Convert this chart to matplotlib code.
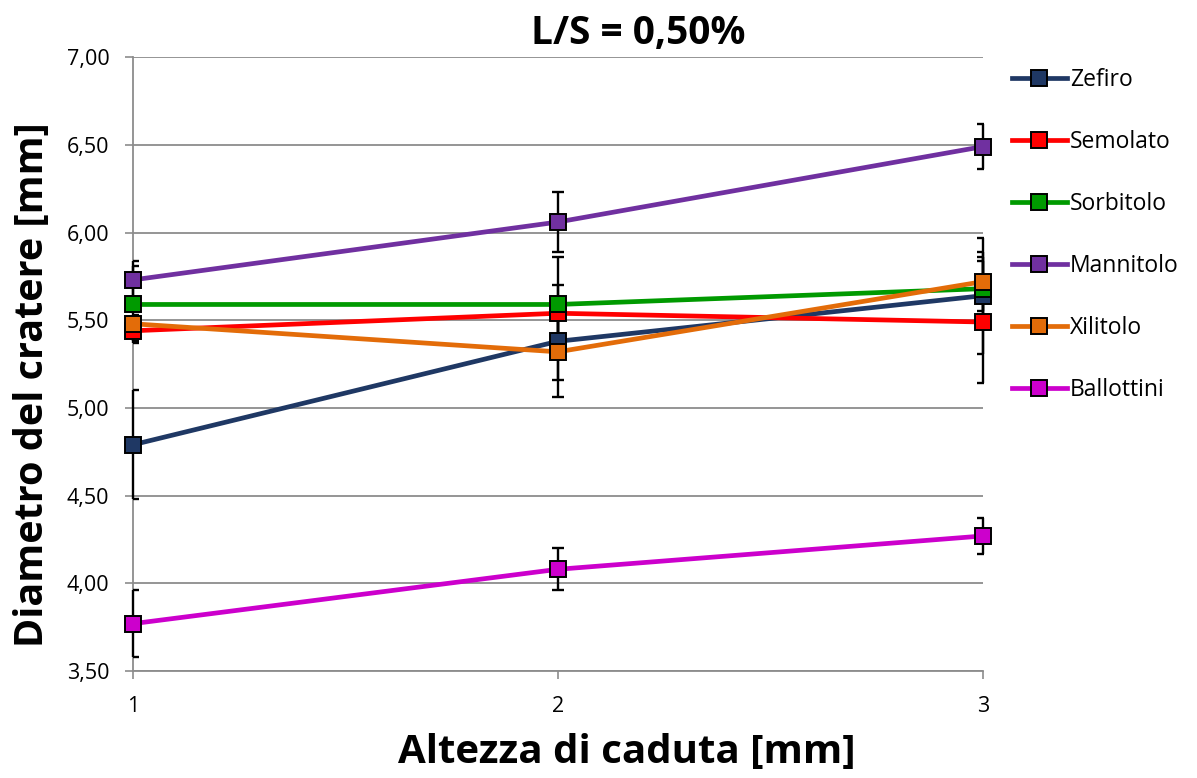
import numpy as np
import matplotlib
matplotlib.use("Agg")
import matplotlib.pyplot as plt

plt.rcParams['font.family'] = ['Open Sans', 'DejaVu Sans']

# drop heights and mean crater diameters (mm) with std deviations
heights = [1, 2, 3]
names = ["Zefiro", "Semolato", "Sorbitolo", "Mannitolo", "Xilitolo", "Ballottini"]
zefiro = [4.79, 5.38, 5.64]
semolato = [5.44, 5.54, 5.49]
sorbitolo = [5.59, 5.59, 5.68]
mannitolo = [5.73, 6.06, 6.49]
xilitolo = [5.48, 5.32, 5.72]
ballottini = [3.77, 4.08, 4.27]

zefiro_err = [0.31, 0.22, 0.33]
semolato_err = [0.06, 0.16, 0.35]
sorbitolo_err = [0.22, 0.27, 0.18]
mannitolo_err = [0.11, 0.17, 0.13]
xilitolo_err = [0.05, 0.26, 0.17]
ballottini_err = [0.19, 0.12, 0.105]

y_ticks = [3.5, 4.0, 4.5, 5.0, 5.5, 6.0, 6.5, 7.0]
y_ticklabels = ["3,50", "4,00", "4,50", "5,00", "5,50", "6,00", "6,50", "7,00"]

series = [zefiro, semolato, sorbitolo, mannitolo, xilitolo, ballottini]
errors = [zefiro_err, semolato_err, sorbitolo_err, mannitolo_err, xilitolo_err, ballottini_err]
colors = ["#1F3864", "#FF0000", "#009A00", "#7030A0", "#E36C09", "#CC00CC"]

fig = plt.figure(figsize=(11.97, 7.78), dpi=100)
ax = fig.add_axes([0.111, 0.1375, 0.710, 0.789])

for vals, err, col, name in zip(series, errors, colors, names):
    _, caps, bars = ax.errorbar(heights, vals, yerr=err, fmt='none', ecolor='black',
                                elinewidth=1.7, capsize=4.5, capthick=1.7, zorder=2.7)
    # keep the vertical whiskers whole on the y axis, caps stay clipped
    for b in bars:
        b.set_clip_on(False)
    ax.plot(heights, vals, color=col, lw=3.4, marker='s', markersize=11.5,
            markerfacecolor=col, markeredgecolor='black', markeredgewidth=1.4,
            label=name, zorder=3, clip_on=False)

ax.set_xlim(1, 3)
ax.set_ylim(3.5, 7.0)
ax.set_xticks(heights)
ax.set_xticklabels([str(h) for h in heights])
ax.set_yticks(y_ticks)
ax.set_yticklabels(y_ticklabels)
ax.tick_params(axis='both', labelsize=15.5, color='#8C8C8C', length=6, width=1.2)
ax.tick_params(axis='x', pad=12)
ax.tick_params(axis='y', pad=11)

ax.grid(axis='y', color='#8C8C8C', lw=1.3)
ax.set_axisbelow(True)
for side in ['top', 'right']:
    ax.spines[side].set_visible(False)
for side in ['left', 'bottom']:
    ax.spines[side].set_color('#8C8C8C')
    ax.spines[side].set_linewidth(1.3)

fig.text(0.533, 0.957, "L/S = 0,50%", fontsize=28, fontweight='bold',
         ha='center', va='center')
fig.text(0.524, 0.033, "Altezza di caduta [mm]", fontsize=29, fontweight='bold',
         ha='center', va='center')
fig.text(0.027, 0.505, "Diametro del cratere [mm]", fontsize=28.5, fontweight='bold',
         ha='center', va='center', rotation=90)

ax.legend(loc='upper left', bbox_to_anchor=(1.034, 0.983), frameon=False,
          fontsize=16.5, handlelength=2.4, handletextpad=0.15, labelspacing=1.66,
          borderaxespad=0, borderpad=0)

fig.savefig("out.png", dpi=100)
